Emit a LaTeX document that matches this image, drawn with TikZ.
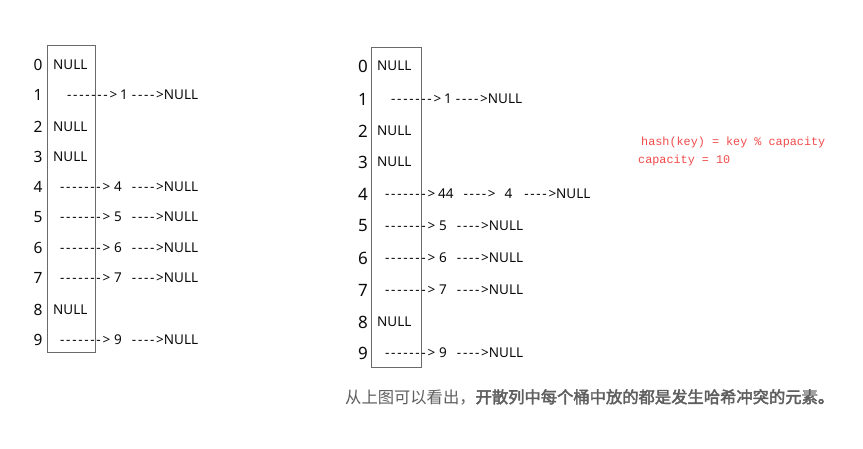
\documentclass[tikz,border=0pt]{standalone}
\usepackage{fontspec}
\setmainfont{Noto Sans}
\newfontfamily\cjk[AutoFakeBold=2.5]{Noto Sans CJK SC}
\newfontfamily\monof{Liberation Mono}
\newcommand\hy{-\kern1.7pt}
\newcommand\longar{\hy\hy\hy\hy\hy\hy\hy>}
\newcommand\shortar{\hy\hy\hy\hy>}
\newcommand\gp[1]{\hspace{#1pt}}
\definecolor{boxgray}{HTML}{6A6A6A}
\definecolor{txt}{HTML}{0A0A0A}
\definecolor{redtxt}{HTML}{F04A4A}
\definecolor{captgray}{HTML}{5E5E5E}
\begin{document}
\begin{tikzpicture}[x=1pt,y=-1pt,
  idxL/.style={font=\fontsize{15.5}{16}\selectfont, text=txt, inner sep=0pt},
  idxR/.style={font=\fontsize{17}{18}\selectfont, text=txt, inner sep=0pt},
  cell/.style={font=\fontsize{13.5}{14}\selectfont, text=txt, anchor=west, inner sep=0pt},
  chain/.style={font=\fontsize{13.5}{14}\selectfont, text=txt, anchor=west, inner sep=0pt},
  bucket/.style={draw=boxgray, line width=0.8pt}]
\useasboundingbox (0,0) rectangle (863,448);
% left table
\draw[bucket] (47,45) rectangle (95,352);
\foreach \i/\y in {0/65,1/95,2/127,3/157,4/187,5/217,6/248,7/278,8/310,9/340}
  \node[idxL] (l\i) at (38,\y) {\i};
\node[cell] (ln0) at (53,65) {NULL};
\node[cell] (ln2) at (53,127) {NULL};
\node[cell] (ln3) at (53,157) {NULL};
\node[cell] (ln8) at (53,310) {NULL};
\node[chain] (lc1) at (67,95) {\longar\gp{3}1\gp{4}\shortar{}NULL};
\node[chain] (lc4) at (60,187) {\longar\gp{4}4\gp{10}\shortar{}NULL};
\node[chain] (lc5) at (60,217) {\longar\gp{4}5\gp{10}\shortar{}NULL};
\node[chain] (lc6) at (60,248) {\longar\gp{4}6\gp{10}\shortar{}NULL};
\node[chain] (lc7) at (60,278) {\longar\gp{4}7\gp{10}\shortar{}NULL};
\node[chain] (lc9) at (60,340) {\longar\gp{4}9\gp{10}\shortar{}NULL};
% right table
\draw[bucket] (371,47) rectangle (421,367);
\foreach \i/\y in {0/66,1/99,2/131,3/162,4/194,5/226,6/258,7/290,8/322,9/353}
  \node[idxR] (r\i) at (363,\y) {\i};
\node[cell] (rn0) at (377,66) {NULL};
\node[cell] (rn2) at (377,131) {NULL};
\node[cell] (rn3) at (377,162) {NULL};
\node[cell] (rn8) at (377,322) {NULL};
\node[chain] (rc1) at (391,99) {\longar\gp{3}1\gp{4}\shortar{}NULL};
\begin{scope}
\clip (380,180) rectangle (593,210);
\node[chain] (rc4) at (385,194) {\longar\gp{3}44\gp{10}\shortar\gp{9}4\gp{12}\shortar{}NULL};
\end{scope}
\node[chain] (rc5) at (385,226) {\longar\gp{4}5\gp{10}\shortar{}NULL};
\node[chain] (rc6) at (385,258) {\longar\gp{4}6\gp{10}\shortar{}NULL};
\node[chain] (rc7) at (385,290) {\longar\gp{4}7\gp{10}\shortar{}NULL};
\node[chain] (rc9) at (385,353) {\longar\gp{4}9\gp{10}\shortar{}NULL};
% formula
\node[anchor=west, inner sep=0pt, text=redtxt, font=\monof\fontsize{11.8}{12}\selectfont] (f1) at (641,142) {hash(key) = key \% capacity};
\node[anchor=west, inner sep=0pt, text=redtxt, font=\monof\fontsize{11.8}{12}\selectfont] (f2) at (638,160) {capacity = 10};
% caption
\node[anchor=west, inner sep=0pt, text=captgray, font=\cjk\fontsize{16.3}{17}\selectfont] (cap) at (345,397) {从上图可以看出，{\bfseries 开散列中每个桶中放的都是发生哈希冲突的元素。}};
\end{tikzpicture}
\end{document}
